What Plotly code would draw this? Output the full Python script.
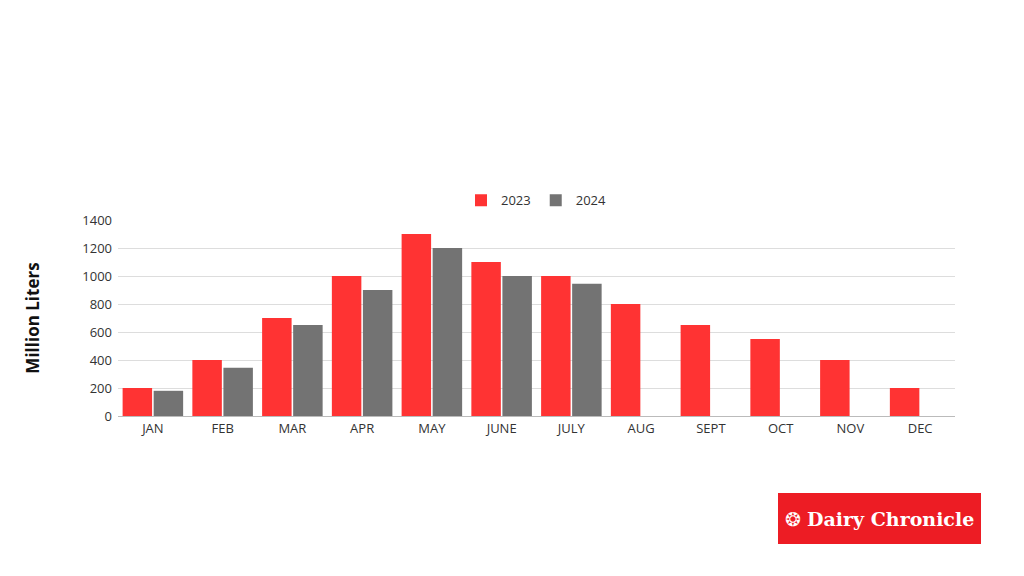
import plotly.graph_objects as go

months = ["JAN", "FEB", "MAR", "APR", "MAY", "JUNE", "JULY", "AUG", "SEPT", "OCT", "NOV", "DEC"]
vals_2023 = [200, 400, 700, 1000, 1300, 1100, 1000, 800, 650, 550, 400, 200]
vals_2024 = [180, 345, 650, 900, 1200, 1000, 945, None, None, None, None, None]
y_ticks = [0, 200, 400, 600, 800, 1000, 1200, 1400]

RED = "#FF3333"
GREY = "#737373"

fig = go.Figure()
fig.add_trace(go.Bar(x=months, y=vals_2023, name="2023", marker=dict(color=RED, line=dict(width=0))))
fig.add_trace(go.Bar(x=months, y=vals_2024, name="2024", marker=dict(color=GREY, line=dict(width=0))))

fig.update_layout(
    width=1024, height=576,
    margin=dict(l=118, r=69, t=220, b=160),
    paper_bgcolor="white", plot_bgcolor="white",
    barmode="group", bargap=0.11, bargroupgap=0.05,
    font=dict(family="Open Sans, sans-serif", color="#333333", size=13),
    legend=dict(orientation="h", x=0.5, xanchor="center", y=1.1, yanchor="middle",
                font=dict(size=13, color="#333333"), itemwidth=30, traceorder="normal"),
    xaxis=dict(showgrid=False, showline=True, linecolor="#bbbbbb", linewidth=1,
               ticks="", tickfont=dict(size=13, color="#333333")),
    yaxis=dict(range=[0, 1400], tickvals=y_ticks, showgrid=True, gridcolor="#dddddd",
               zeroline=False, ticks="", ticklabelstandoff=5,
               tickfont=dict(size=13, color="#333333"),
               title=dict(text="<b>Million Liters</b>", font=dict(size=17, color="#111111"), standoff=38)),
)

# Logo box
fig.add_shape(type="rect", xref="paper", yref="paper",
              x0=(778 - 118) / 837, x1=(981 - 118) / 837,
              y0=(416 - 544) / 196, y1=(416 - 493) / 196,
              fillcolor="#ED1C24", line=dict(width=0), layer="above")
fig.add_annotation(xref="paper", yref="paper",
                   x=(879.5 - 118) / 837, y=(416 - 518.5) / 196,
                   text="❂ <b>Dairy Chronicle</b>", showarrow=False,
                   font=dict(family="DejaVu Serif, serif", size=19, color="white"),
                   xanchor="center", yanchor="middle")

fig.write_html("out.html")
